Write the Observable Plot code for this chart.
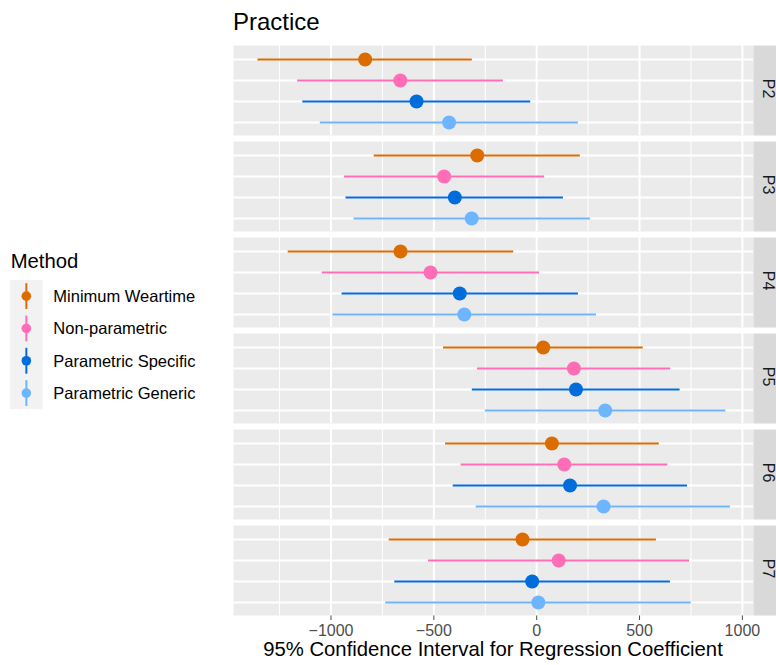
<!DOCTYPE html>
<html>
<head>
<meta charset="utf-8">
<script src="https://cdn.jsdelivr.net/npm/d3@7"></script>
<script src="https://cdn.jsdelivr.net/npm/@observablehq/plot@0.6"></script>
<style>
  html, body { margin: 0; padding: 0; background: #fff; overflow: hidden; }
  #wrap { position: relative; width: 776px; height: 665px; font-family: "Liberation Sans", Arial, Helvetica, sans-serif; }
  #title { position: absolute; left: 233px; top: 10px; font-size: 24px; line-height: 24px; color: #000; white-space: nowrap; }
  #xlabel { position: absolute; left: 233px; width: 520px; top: 642px; font-size: 20.3px; line-height: 14px; text-align: center; color: #000; white-space: nowrap; }
  #legend { position: absolute; left: 0; top: 0; }
  #chart { position: absolute; left: 0; top: 0; }
</style>
</head>
<body>
<div id="wrap">
  <div id="chart"></div>
  <div id="title">Practice</div>
  <div id="xlabel">95% Confidence Interval for Regression Coefficient</div>
  <svg id="legend" width="230" height="665"></svg>
</div>
<script>
// ---- data ----
const panels = ["P2", "P3", "P4", "P5", "P6", "P7"];
const methods = ["Minimum Weartime", "Non-parametric", "Parametric Specific", "Parametric Generic"];
const methodColors = ["#DB6D00", "#FF6DB6", "#006DDB", "#6DB6FF"];

// estimates and 95% CI per method, in panel order P2..P7
const mwEst  = [-834, -289, -662,   32,   74,  -69];
const mwLow  = [-1355, -790, -1208, -453, -443, -717];
const mwHigh = [-313,  212, -112,  518,  596,  582];

const npEst  = [-663, -450, -516,  181,  134,  107];
const npLow  = [-1162, -934, -1042, -288, -367, -526];
const npHigh = [-162,   39,   14,  651,  638,  743];

const psEst  = [-584, -398, -374,  191,  162,  -22];
const psLow  = [-1137, -927, -946, -313, -406, -690];
const psHigh = [-29,  130,  203,  697,  733,  650];

const pgEst  = [-426, -316, -352,  333,  325,    8];
const pgLow  = [-1052, -888, -990, -250, -294, -734];
const pgHigh = [203,  261,  291,  920,  942,  751];

const xTicks = [-1000, -500, 0, 500, 1000];
const xMinor = [-1250, -750, -250, 250, 750];
const xDomain = [-1474, 1054];

// ---- build table ----
const series = [
  [mwEst, mwLow, mwHigh],
  [npEst, npLow, npHigh],
  [psEst, psLow, psHigh],
  [pgEst, pgLow, pgHigh]
];
const rows = [];
methods.forEach((m, i) => {
  const [e, lo, hi] = series[i];
  panels.forEach((p, j) => rows.push({panel: p, method: m, est: e[j], low: lo[j], high: hi[j]}));
});

const W = 776, H = 665;
const mL = 233, mR = 23, mT = 45, mB = 49;
const panelW = W - mL - mR;
const fmt = d => (d < 0 ? "\u2212" : "") + Math.abs(d);

const chart = Plot.plot({
  width: W,
  height: H,
  marginLeft: mL,
  marginRight: mR,
  marginTop: mT,
  marginBottom: mB,
  style: {fontFamily: "'Liberation Sans', Arial, Helvetica, sans-serif", fontSize: "16px", background: "transparent", overflow: "visible", color: "#4D4D4D"},
  x: {domain: xDomain, ticks: xTicks, tickFormat: fmt, tickSize: 5, tickPadding: 4, label: null},
  y: {type: "point", domain: methods, padding: 0.6, axis: null},
  fy: {domain: panels, paddingInner: 0.06, paddingOuter: 0, axis: null, label: null},
  color: {domain: methods, range: methodColors},
  marks: [
    Plot.frame({fill: "#EBEBEB", stroke: null}),
    Plot.gridX(xMinor, {stroke: "#FFFFFF", strokeOpacity: 1, strokeWidth: 1}),
    Plot.gridX(xTicks, {stroke: "#FFFFFF", strokeOpacity: 1, strokeWidth: 2}),
    Plot.gridY(methods, {stroke: "#FFFFFF", strokeOpacity: 1, strokeWidth: 2}),
    Plot.ruleY(rows, {y: "method", x1: "low", x2: "high", fy: "panel", stroke: "method", strokeWidth: 2}),
    Plot.dot(rows, {x: "est", y: "method", fy: "panel", fill: "method", r: 7, stroke: null}),
    Plot.frame({fill: "#D9D9D9", stroke: null, insetLeft: panelW, insetRight: -40}),
    Plot.text(panels, {fy: d => d, text: d => d, frameAnchor: "right", dx: 14.5, dy: -2, rotate: 90, textAnchor: "middle", lineAnchor: "middle", fontSize: 16, fill: "#1A1A1A"})
  ]
});
document.getElementById("chart").appendChild(chart);

// ---- legend ----
const leg = d3.select("#legend");
leg.append("text").attr("x", 10.7).attr("y", 268).attr("font-size", 20.3)
  .attr("font-family", "'Liberation Sans', Arial, Helvetica, sans-serif").attr("fill", "#000").text("Method");
const keyTop = 280, keyH = 32.3, keyX = 10, keyW = 32.7;
leg.append("rect").attr("x", keyX).attr("y", keyTop).attr("width", keyW).attr("height", keyH * methods.length).attr("fill", "#F2F2F2");
methods.forEach((m, i) => {
  const cy = keyTop + keyH * (i + 0.5);
  const cx = keyX + keyW / 2;
  leg.append("line").attr("x1", cx).attr("x2", cx).attr("y1", cy - keyH * 0.4).attr("y2", cy + keyH * 0.4)
    .attr("stroke", methodColors[i]).attr("stroke-width", 2);
  leg.append("circle").attr("cx", cx).attr("cy", cy).attr("r", 4.8).attr("fill", methodColors[i]);
  leg.append("text").attr("x", 53.3).attr("y", cy + 6).attr("font-size", 16.5)
    .attr("font-family", "'Liberation Sans', Arial, Helvetica, sans-serif").attr("fill", "#000").text(m);
});
</script>
</body>
</html>
